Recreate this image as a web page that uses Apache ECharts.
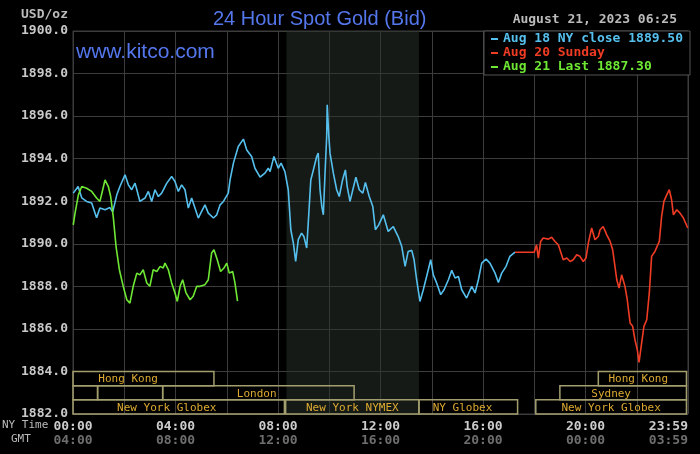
<!DOCTYPE html>
<html lang="en">
<head>
<meta charset="UTF-8">
<title>24 Hour Spot Gold (Bid)</title>
<script src="https://cdn.jsdelivr.net/npm/echarts@6/dist/echarts.min.js"></script>
<style>
  html, body { margin: 0; padding: 0; background: #000; }
  #chart { width: 700px; height: 454px; }
</style>
</head>
<body>
<div id="chart"></div>
<script>
// hours since 00:00 NY time, spot price
var aug18 = [
  [0.01,1892.38],[0.20,1892.69],[0.34,1892.16],[0.53,1891.99],[0.73,1891.92],[0.92,1891.22],
  [1.05,1891.68],[1.25,1891.60],[1.44,1891.70],[1.55,1891.50],[1.71,1892.30],[1.83,1892.69],
  [2.03,1893.24],[2.16,1892.77],[2.29,1892.54],[2.42,1892.85],[2.51,1892.46],[2.61,1891.99],
  [2.81,1892.15],[2.94,1892.46],[3.07,1891.99],[3.20,1892.54],[3.33,1892.22],[3.46,1892.38],
  [3.66,1892.85],[3.85,1893.16],[3.98,1892.93],[4.11,1892.46],[4.24,1892.77],[4.37,1892.54],
  [4.50,1891.68],[4.63,1892.15],[4.76,1891.68],[4.89,1891.21],[5.02,1891.52],[5.15,1891.83],
  [5.28,1891.44],[5.48,1891.21],[5.61,1891.36],[5.74,1891.83],[5.87,1891.99],[6.06,1892.38],
  [6.13,1893.00],[6.26,1893.79],[6.45,1894.57],[6.65,1894.92],[6.78,1894.41],[6.97,1894.10],
  [7.10,1893.55],[7.30,1893.13],[7.49,1893.32],[7.62,1893.55],[7.69,1893.39],[7.84,1894.10],
  [8.01,1893.55],[8.12,1893.79],[8.27,1893.39],[8.40,1892.54],[8.50,1890.66],[8.60,1890.03],
  [8.69,1889.17],[8.79,1890.19],[8.92,1890.50],[9.01,1890.34],[9.12,1889.80],[9.18,1890.97],
  [9.28,1893.00],[9.38,1893.47],[9.51,1894.10],[9.57,1894.26],[9.64,1892.54],[9.71,1891.75],
  [9.77,1891.36],[9.83,1893.16],[9.90,1895.04],[9.92,1896.53],[9.98,1895.12],[10.03,1894.26],
  [10.16,1893.32],[10.29,1892.54],[10.39,1892.22],[10.52,1893.00],[10.63,1893.47],[10.70,1892.69],
  [10.81,1891.99],[10.92,1892.54],[11.04,1893.13],[11.17,1892.54],[11.31,1892.38],[11.41,1892.88],
  [11.56,1892.22],[11.70,1891.75],[11.80,1890.66],[11.93,1890.89],[12.11,1891.36],[12.30,1890.58],
  [12.50,1890.81],[12.69,1890.34],[12.83,1889.87],[12.96,1888.94],[13.08,1889.64],[13.22,1889.69],
  [13.31,1889.25],[13.41,1888.31],[13.54,1887.29],[13.67,1887.84],[13.80,1888.46],[13.96,1889.25],
  [14.06,1888.54],[14.19,1888.16],[14.35,1887.61],[14.48,1887.84],[14.65,1888.31],[14.78,1888.75],
  [14.91,1888.39],[15.04,1888.46],[15.17,1887.84],[15.36,1887.45],[15.56,1888.00],[15.69,1887.69],
  [15.82,1888.31],[15.95,1889.09],[16.12,1889.28],[16.27,1889.09],[16.47,1888.62],[16.60,1888.18],
  [16.73,1888.62],[16.90,1888.94],[17.05,1889.41],[17.25,1889.61]
];
var aug20 = [
  [17.25,1889.60],[18.00,1889.60],[18.09,1889.95],[18.16,1889.33],[18.25,1890.11],[18.35,1890.27],
  [18.55,1890.22],[18.68,1890.31],[18.81,1890.11],[18.94,1889.95],[19.00,1889.87],[19.13,1889.25],
  [19.27,1889.33],[19.40,1889.17],[19.52,1889.25],[19.66,1889.48],[19.78,1889.41],[19.91,1889.17],
  [20.02,1889.33],[20.11,1890.03],[20.24,1890.74],[20.37,1890.19],[20.50,1890.34],[20.57,1890.66],
  [20.69,1890.81],[20.83,1890.42],[20.96,1890.11],[21.06,1889.72],[21.15,1888.94],[21.22,1888.31],
  [21.31,1887.92],[21.41,1888.54],[21.54,1888.00],[21.63,1887.37],[21.74,1886.28],[21.84,1886.12],
  [21.93,1885.49],[22.02,1885.02],[22.09,1884.43],[22.19,1885.33],[22.28,1886.12],[22.39,1886.43],
  [22.49,1887.69],[22.58,1889.41],[22.71,1889.64],[22.88,1890.11],[22.97,1891.28],[23.06,1891.99],
  [23.17,1892.30],[23.27,1892.54],[23.36,1892.07],[23.43,1891.36],[23.56,1891.60],[23.69,1891.44],
  [23.82,1891.21],[23.99,1890.74]
];
var aug21 = [
  [0.01,1890.89],[0.08,1891.44],[0.21,1892.30],[0.34,1892.69],[0.53,1892.61],[0.73,1892.46],
  [0.92,1892.15],[1.05,1891.99],[1.16,1892.54],[1.25,1893.00],[1.38,1892.69],[1.47,1892.22],
  [1.57,1891.28],[1.68,1889.87],[1.81,1888.78],[1.96,1888.00],[2.10,1887.37],[2.22,1887.21],
  [2.35,1888.00],[2.49,1888.62],[2.61,1888.54],[2.74,1888.78],[2.88,1888.16],[3.00,1888.00],
  [3.13,1888.78],[3.27,1888.70],[3.40,1888.94],[3.52,1888.86],[3.59,1889.09],[3.72,1888.78],
  [3.85,1888.16],[3.98,1887.69],[4.07,1887.29],[4.18,1888.00],[4.28,1888.31],[4.41,1887.69],
  [4.57,1887.37],[4.69,1887.53],[4.83,1888.00],[4.96,1888.00],[5.15,1888.08],[5.28,1888.31],
  [5.41,1889.57],[5.50,1889.72],[5.63,1889.25],[5.76,1888.70],[5.89,1888.86],[6.00,1889.09],
  [6.10,1888.62],[6.23,1888.70],[6.32,1888.16],[6.42,1887.30]
];

var seriesNames = ['Aug 18 NY close 1889.50', 'Aug 20 Sunday', 'Aug 21 Last 1887.30'];
var nyTicks = ['00:00', '04:00', '08:00', '12:00', '16:00', '20:00', '23:59'];
var gmtTicks = ['04:00', '08:00', '12:00', '16:00', '20:00', '00:00', '03:59'];
var nymexHours = [8.33, 13.5];

// trading sessions: [start hour, end hour, row, label hour]
var sessions = [
  [0, 5.5, 0, 2.15], [20.5, 23.94, 0, 22.06],
  [0, 0.96, 1, 0], [0.96, 3.5, 1, 0], [3.5, 10.97, 1, 7.17], [19.0, 23.94, 1, 21.0],
  [0, 8.25, 2, 3.66], [8.3, 13.5, 2, 10.9], [13.5, 17.35, 2, 15.2], [18.06, 23.94, 2, 21.0]
];
var sessionNames = ['Hong Kong', 'Hong Kong', '', '', 'London', 'Sydney',
  'New York Globex', 'New York NYMEX', 'NY Globex', 'New York Globex'];

var mono = 'DejaVu Sans Mono';
var colors = ['#55c0ee', '#f03c24', '#6ee834'];

var chart = echarts.init(document.getElementById('chart'));
chart.setOption({
  backgroundColor: '#000',
  animation: false,
  title: {
    text: '24 Hour Spot Gold (Bid)',
    left: 208, top: 4,
    textStyle: { color: '#5577ee', fontFamily: 'Liberation Sans', fontSize: 20, fontWeight: 'normal' }
  },
  legend: {
    left: 484, top: 31,
    orient: 'vertical',
    selectedMode: false,
    icon: 'rect', itemWidth: 7, itemHeight: 2, itemGap: 0,
    padding: [1, 7, 1, 7],
    backgroundColor: '#000', borderColor: '#555', borderWidth: 1,
    textStyle: { fontFamily: mono, fontSize: 13, fontWeight: 'bold', lineHeight: 14 },
    data: seriesNames.map(function (n, i) {
      return { name: n, itemStyle: { color: colors[i] }, textStyle: { color: colors[i] } };
    })
  },
  grid: {
    left: 73, right: 12, top: 31, bottom: 40,
    show: true, borderColor: '#3c3c3c', borderWidth: 1, backgroundColor: '#000'
  },
  xAxis: {
    type: 'value', min: 0, max: 24, interval: 2,
    axisLine: { show: false }, axisTick: { show: false },
    splitLine: { lineStyle: { color: '#3c3c3c', width: 1 } },
    axisLabel: {
      margin: 6,
      alignMaxLabel: 'right',
      formatter: function (v) {
        if (v % 4 !== 0) return '';
        var i = v / 4;
        return '{ny|' + nyTicks[i] + '}\n{gmt|' + gmtTicks[i] + '}';
      },
      rich: {
        ny: { color: '#cccccc', fontFamily: mono, fontSize: 13, fontWeight: 'bold', lineHeight: 14 },
        gmt: { color: '#6e6e6e', fontFamily: mono, fontSize: 13, fontWeight: 'bold', lineHeight: 14 }
      }
    }
  },
  yAxis: {
    type: 'value', min: 1882, max: 1900, interval: 2,
    axisLine: { show: false }, axisTick: { show: false },
    splitLine: { lineStyle: { color: '#3c3c3c', width: 1 } },
    axisLabel: {
      margin: 5, color: '#c8c8c8', fontFamily: mono, fontSize: 13, fontWeight: 'bold',
      formatter: function (v) { return v.toFixed(1); }
    }
  },
  graphic: [
    { type: 'text', left: 21, top: 8, style: { text: 'USD/oz', fill: '#bbbbbb', font: 'bold 13px ' + mono } },
    { type: 'text', right: 23, top: 13, style: { text: 'August 21, 2023 06:25', fill: '#bbbbbb', font: 'bold 13px ' + mono } },
    { type: 'text', left: 76, top: 42, style: { text: 'www.kitco.com', fill: '#5577ee', font: '21px Liberation Sans' } },
    { type: 'text', left: 2, top: 420, style: { text: 'NY Time', fill: '#bbbbbb', font: '11px ' + mono } },
    { type: 'text', left: 11, top: 434, style: { text: 'GMT', fill: '#bbbbbb', font: '11px ' + mono } }
  ],
  series: [
    {
      name: seriesNames[0], type: 'line', data: aug18, showSymbol: false,
      lineStyle: { color: colors[0], width: 1.6 }, itemStyle: { color: colors[0] }, z: 3,
      markArea: {
        silent: true,
        itemStyle: { color: 'rgba(44,52,44,0.5)' },
        data: [[{ xAxis: nymexHours[0] }, { xAxis: nymexHours[1] }]]
      }
    },
    {
      name: seriesNames[1], type: 'line', data: aug20, showSymbol: false,
      lineStyle: { color: colors[1], width: 1.6 }, itemStyle: { color: colors[1] }, z: 3
    },
    {
      name: seriesNames[2], type: 'line', data: aug21, showSymbol: false,
      lineStyle: { color: colors[2], width: 1.6 }, itemStyle: { color: colors[2] }, z: 4
    },
    {
      type: 'custom', data: sessions, silent: true, z: 2,
      encode: { x: [0, 1, 3], y: 2 },
      renderItem: function (params, api) {
        var top = 1884 - api.value(2) * 2 / 3;
        var bot = top - 2 / 3;
        var p0 = api.coord([api.value(0), top]);
        var p1 = api.coord([api.value(1), bot]);
        var pl = api.coord([api.value(3), (top + bot) / 2]);
        return {
          type: 'group',
          children: [
            {
              type: 'rect',
              shape: { x: p0[0], y: p0[1], width: p1[0] - p0[0], height: p1[1] - p0[1] },
              style: { fill: 'none', stroke: '#a39e6e', lineWidth: 1.5 }
            },
            {
              type: 'text',
              style: {
                text: sessionNames[params.dataIndex], x: pl[0], y: pl[1] + 1,
                align: 'center', verticalAlign: 'middle',
                fill: '#dcaa32', font: '11px ' + mono
              }
            }
          ]
        };
      }
    }
  ]
});
</script>
</body>
</html>
